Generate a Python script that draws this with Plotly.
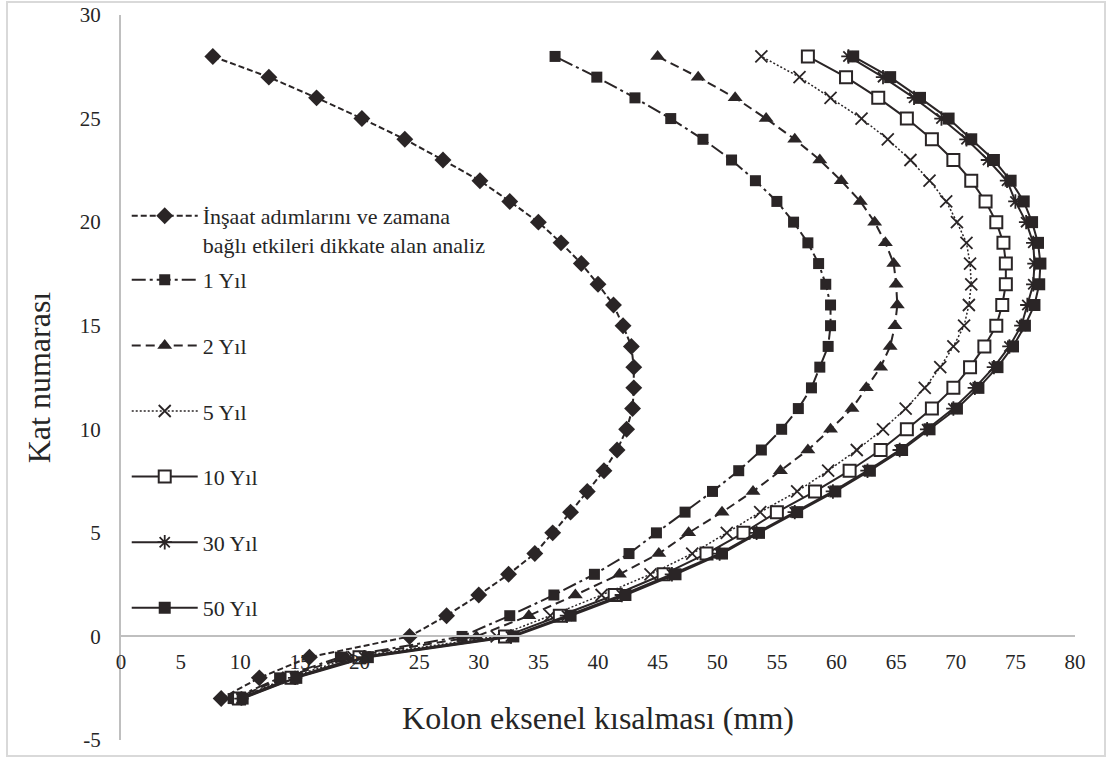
import plotly.graph_objects as go

floors = list(range(-3, 29))

insaat = [8.4, 11.6, 15.8, 24.2, 27.3, 30.0, 32.5, 34.7, 36.2, 37.7, 39.1, 40.5, 41.6, 42.4, 42.9, 43.0,
          43.0, 42.8, 42.1, 41.3, 40.0, 38.6, 36.9, 35.0, 32.6, 30.1, 27.0, 23.8, 20.2, 16.4, 12.4, 7.7]
yil1 = [9.4, 13.3, 18.4, 28.6, 32.6, 36.3, 39.7, 42.6, 44.9, 47.3, 49.6, 51.8, 53.7, 55.4, 56.8, 57.9,
        58.6, 59.3, 59.5, 59.5, 59.1, 58.5, 57.6, 56.4, 55.0, 53.2, 51.2, 48.8, 46.1, 43.1, 39.9, 36.4]
yil2 = [9.6, 13.6, 18.9, 29.8, 34.2, 38.1, 41.8, 45.1, 47.6, 50.4, 53.0, 55.3, 57.6, 59.5, 61.3, 62.5,
        63.7, 64.5, 64.9, 65.1, 65.0, 64.8, 64.1, 63.2, 62.0, 60.4, 58.6, 56.5, 54.1, 51.5, 48.4, 45.0]
yil5 = [9.8, 14.0, 19.5, 31.5, 36.0, 40.3, 44.4, 47.9, 50.8, 53.6, 56.7, 59.3, 61.7, 63.9, 65.8, 67.4,
        68.7, 69.8, 70.7, 71.1, 71.3, 71.2, 70.9, 70.1, 69.2, 67.8, 66.2, 64.3, 62.1, 59.5, 56.9, 53.7]
yil10 = [9.9, 14.3, 20.0, 32.2, 36.8, 41.4, 45.5, 49.1, 52.2, 55.0, 58.2, 61.1, 63.7, 65.9, 68.0, 69.8,
         71.2, 72.4, 73.4, 73.9, 74.2, 74.2, 74.0, 73.4, 72.5, 71.3, 69.8, 68.0, 65.9, 63.5, 60.8, 57.6]
yil30 = [10.1, 14.6, 20.4, 32.7, 37.4, 42.0, 46.2, 50.2, 53.3, 56.5, 59.7, 62.6, 65.3, 67.6, 69.8, 71.6,
         73.2, 74.5, 75.5, 76.0, 76.5, 76.6, 76.5, 75.9, 75.0, 74.3, 72.7, 70.9, 68.8, 66.5, 63.9, 61.0]
yil50 = [10.2, 14.7, 20.7, 32.9, 37.7, 42.3, 46.5, 50.4, 53.5, 56.7, 59.9, 62.8, 65.5, 67.8, 70.1, 71.9,
         73.5, 74.8, 75.8, 76.6, 77.0, 77.1, 76.9, 76.4, 75.7, 74.6, 73.2, 71.3, 69.4, 67.0, 64.5, 61.4]

names = ["İnşaat adımlarını ve zamana<br>bağlı etkileri dikkate alan analiz",
         "1 Yıl", "2 Yıl", "5 Yıl", "10 Yıl", "30 Yıl", "50 Yıl"]

x_ticks = [0, 5, 10, 15, 20, 25, 30, 35, 40, 45, 50, 55, 60, 65, 70, 75, 80]
y_ticks = [-5, 0, 5, 10, 15, 20, 25, 30]
y_ticktext = ["-5", "0", "5", "10", "15", "20", "25", "30"]

DARK = "#2a2526"
TXT = "#262626"
FONT = "Times New Roman, Liberation Serif, DejaVu Serif, serif"

styles = [
    dict(dash="6px,3px", width=2, marker=dict(symbol="diamond", size=13, color=DARK)),
    dict(dash="14px,4px,3px,4px", width=2, marker=dict(symbol="square", size=11, color=DARK)),
    dict(dash="9px,5px", width=2, marker=dict(symbol="triangle-up", size=13, color=DARK)),
    dict(dash="2px,2px", width=1.5, marker=dict(symbol="x-thin-open", size=12, color=DARK,
                                                line=dict(color=DARK, width=1.8))),
    dict(dash="solid", width=2, marker=dict(symbol="square", size=12, color="white",
                                            line=dict(color=DARK, width=2))),
    dict(dash="solid", width=2, marker=dict(symbol="asterisk-open", size=12, color=DARK,
                                            line=dict(color=DARK, width=1.8))),
    dict(dash="solid", width=2, marker=dict(symbol="square", size=12, color=DARK)),
]

series = [insaat, yil1, yil2, yil5, yil10, yil30, yil50]

fig = go.Figure()
for i, (name, vals, st) in enumerate(zip(names, series, styles)):
    fig.add_trace(go.Scatter(
        x=vals, y=floors, name=name, mode="lines+markers",
        line=dict(color=DARK, width=st["width"], dash=st["dash"]),
        marker=st["marker"], legendgroup=f"g{i}",
        legend="legend" if i == 0 else "legend2",
    ))

# plot area: x 121..1075 px, y 15..740 px
fig.update_layout(
    width=1115, height=760,
    margin=dict(l=121, r=40, t=15, b=20, autoexpand=False),
    paper_bgcolor="white", plot_bgcolor="white",
    font=dict(family=FONT, color=TXT, size=20),
    showlegend=True,
    legend=dict(x=0.006, y=(740 - 195) / 725, xanchor="left", yanchor="top", valign="top",
                bgcolor="rgba(0,0,0,0)", font=dict(family=FONT, size=22, color=TXT),
                itemwidth=66),
    legend2=dict(x=0.006, y=(740 - 259) / 725, xanchor="left", yanchor="top",
                 bgcolor="rgba(0,0,0,0)", font=dict(family=FONT, size=22, color=TXT),
                 tracegroupgap=34, itemwidth=66),
    xaxis=dict(range=[0, 80], tickvals=x_ticks, showgrid=False, zeroline=False,
               showline=True, linecolor="#bfbfbf", linewidth=2, automargin=False,
               anchor="free", position=5 / 35, ticks="", ticklabelstandoff=6,
               tickfont=dict(family=FONT, size=21, color=TXT),
               title=dict(text="Kolon eksenel kısalması (mm)", standoff=33,
                          font=dict(family=FONT, size=32, color=TXT))),
    yaxis=dict(range=[-5, 30], tickvals=y_ticks, ticktext=y_ticktext, showgrid=False,
               zeroline=False, showline=True, linecolor="#bfbfbf", linewidth=2, ticks="",
               ticklabelstandoff=14, automargin=False,
               tickfont=dict(family=FONT, size=21, color=TXT),
               title=dict(text="Kat numarası", standoff=20,
                          font=dict(family=FONT, size=32, color=TXT))),
    shapes=[dict(type="rect", xref="paper", yref="paper",
                 x0=(7 - 121) / 954, x1=(1105 - 121) / 954,
                 y0=(740 - 756) / 725, y1=(740 - 2) / 725,
                 line=dict(color="#d9d9d9", width=2), fillcolor="rgba(0,0,0,0)", layer="below")],
)

fig.write_html("out.html", config={"displayModeBar": False},
               post_script="document.body.style.margin='0';")
